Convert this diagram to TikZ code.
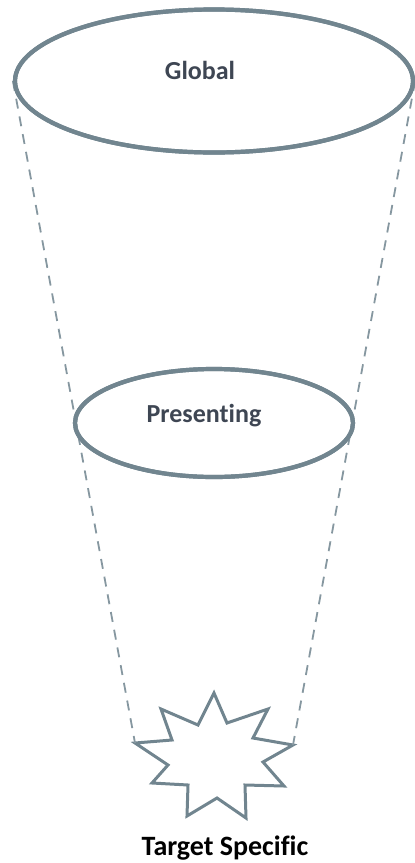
\documentclass[tikz,border=0pt]{standalone}
\usepackage{fontspec}
\setmainfont{Carlito}[Ligatures=NoCommon]
\usepackage{tikz}
\usetikzlibrary{shapes.geometric}

\definecolor{rimgray}{HTML}{71858F}
\definecolor{labelgray}{HTML}{3E4653}

\begin{document}
\begin{tikzpicture}[x=1pt, y=-1pt,
    rim/.style={ellipse, draw=rimgray, line width=4.2pt, fill=white, inner sep=0pt},
    guide/.style={draw=rimgray!85, line width=1.8pt, dash pattern=on 10pt off 8pt},
    tag/.style={anchor=base, font=\fontsize{26}{30}\selectfont\bfseries}]
    \useasboundingbox (0,0) rectangle (415,863);

        % star at the bottom, tips numbered clockwise from the top
        \coordinate (tipL) at (135,743);
        \coordinate (tipR) at (293,745);
        \draw [draw=rimgray, line width=3pt, line join=miter, fill=white]
            (214,693) -- (227,723) -- (268,709) -- (253,738) -- (tipR) -- (263,762)
            -- (284,786) -- (245,785) -- (246,818) -- (217,798) -- (187,816)
            -- (188,785) -- (152,783) -- (168,765) -- (tipL) -- (172,740)
            -- (161,709) -- (198,725) -- cycle;

        \node[rim, minimum width=398pt, minimum height=143pt] at (214,81)  (global) {};
        \node[rim, minimum width=278pt, minimum height=108pt] at (214,423) (present) {};

        \path [guide] (global.west) -- (tipL);
        \path [guide] (global.east) -- (tipR);

        % redraw the funnel rims on top of the guides
        \node[rim, fill=none, minimum width=398pt, minimum height=143pt] at (214,81) {};
        \node[rim, fill=none, minimum width=278pt, minimum height=108pt] at (214,423) {};

        \node[tag, text=labelgray] at (200,79)  (globaltxt)  {Global};
        \node[tag, text=labelgray] at (204,422) (presenttxt) {Presenting};
        \node[tag, text=black, font=\fontsize{28}{32}\selectfont\bfseries]
            at (225,855) (targettxt) {Target Specific};
\end{tikzpicture}
\end{document}
